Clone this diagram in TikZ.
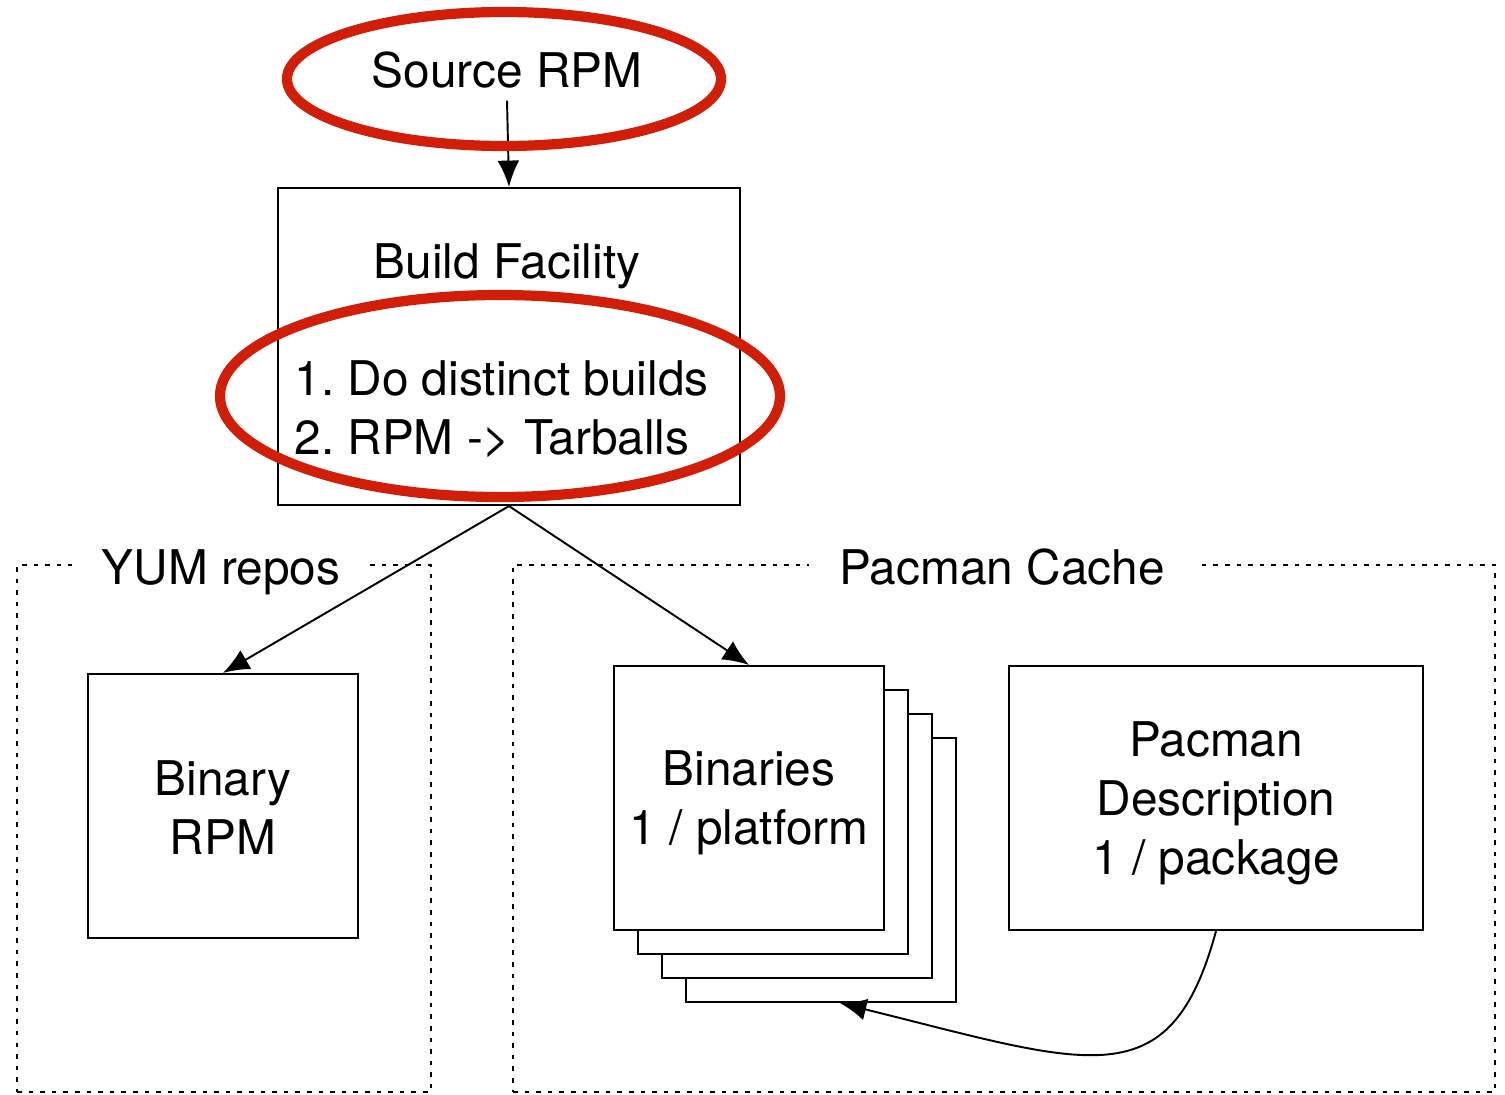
\documentclass[tikz,border=0pt]{standalone}
\usepackage{fontspec}
\setmainfont{TeX Gyre Heros}
\usetikzlibrary{arrows.meta}
\definecolor{markred}{RGB}{208,30,8}
\tikzset{
 box/.style={draw,line width=.6pt,fill=white,minimum width=#1},
 box/.default=2.7cm,
 group/.style={draw,line width=.45pt,dash pattern=on 1.3pt off 2pt},
 grouplabel/.style={fill=white,inner xsep=.3cm,inner ysep=1pt},
 circled/.style={draw=markred,line width=2.9pt},
 link/.style={->,line width=.55pt}
}
\begin{document}
\frenchspacing
\begin{tikzpicture}[>={Latex[length=7.5pt,width=6.2pt]},font=\fontsize{13.6}{16.8}\selectfont]
 \useasboundingbox (0,0) rectangle (15.05,-10.94);
 \node[group,minimum width=4.14cm,minimum height=5.27cm] (yum) at (2.24,-8.285) {};
 \node[group,minimum width=9.82cm,minimum height=5.27cm] (cache) at (10.04,-8.285) {};
 \node[grouplabel] (yumlbl) at (2.21,-5.72) {YUM repos};
 \node[grouplabel] (cachelbl) at (10.02,-5.67) {Pacman Cache};
 \node (src) at (5.07,-0.70) {Source RPM};
 \node[box=4.62cm,minimum height=3.17cm] (build) at (5.09,-3.465) {};
 \node (buildlbl) at (5.07,-2.66) {Build Facility};
 \node[align=left,anchor=west] (steps) at (2.82,-4.09) {1. Do distinct builds\\2. RPM -> Tarballs};
 \node[box,minimum height=2.64cm] (binrpm) at (2.23,-8.06) {};
 \node[align=center] (binrpmlbl) at (2.23,-8.08) {Binary\\RPM};
 \foreach \i in {3,2,1,0}
  \node[box,minimum height=2.64cm] (s\i) at (7.49+.24*\i,-7.98-.24*\i) {};
 \node[align=center] (binlbl) at (7.49,-8.03) {Binaries\\1 / platform};
 \node[box=4.14cm,minimum height=2.64cm] (desc) at (12.16,-7.98) {};
 \node[align=center] (desclbl) at (12.16,-8.03) {Pacman\\Description\\1 / package};
 \draw[link] (src.south) -- (build.north);
 \draw[link] (build.south) -- (binrpm.north);
 \draw[link] (build.south) -- (s0.north);
 \draw[link] (desc.south) .. controls (11.7,-11.0) and (10.9,-10.65) .. ([xshift=.19cm]s3.south);
 \draw[circled] (5.04,-0.79) ellipse (2.17 and .67);
 \draw[circled] (5.00,-3.96) ellipse (2.80 and 1.01);
\end{tikzpicture}
\end{document}
